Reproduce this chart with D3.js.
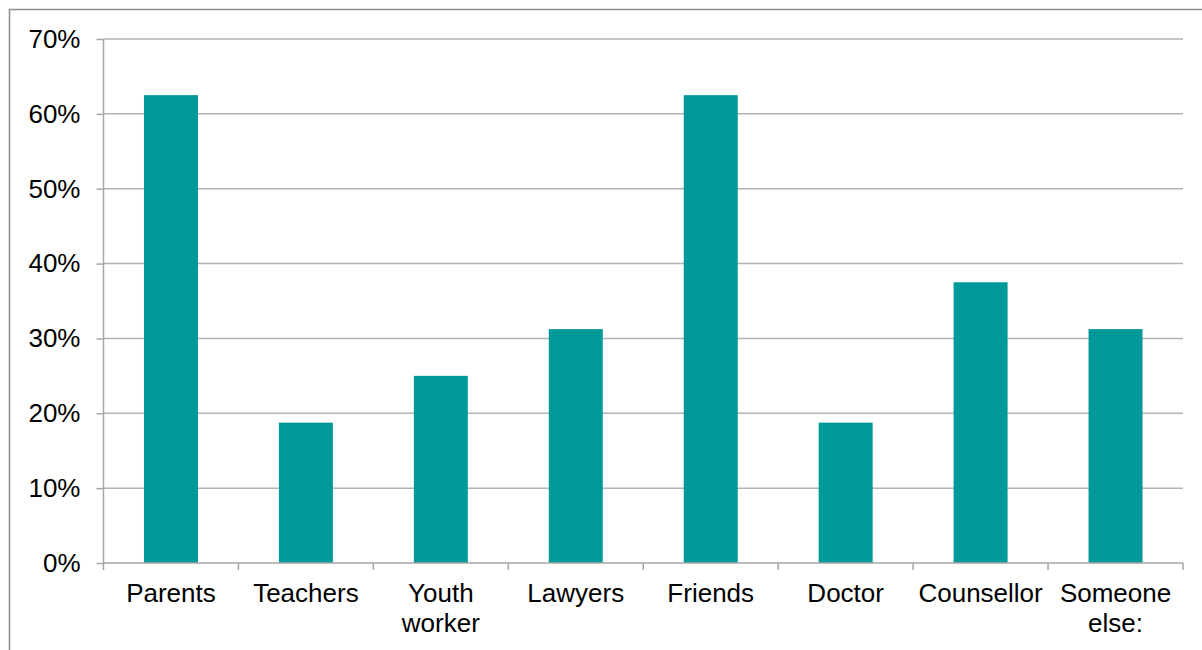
<!DOCTYPE html>
<html>
<head>
<meta charset="utf-8">
<script src="https://cdn.jsdelivr.net/npm/d3@7"></script>
<style>
  html, body { margin: 0; padding: 0; background: #fff; }
  svg { display: block; }
  text { font-family: "Liberation Sans", Arial, sans-serif; fill: #000; }
</style>
</head>
<body>
<svg id="chart" width="1202" height="650"></svg>
<script>
// Share of respondents who would talk to each group
const categories = ["Parents", "Teachers", "Youth worker", "Lawyers", "Friends", "Doctor", "Counsellor", "Someone else:"];
const values = [0.625, 0.1875, 0.25, 0.3125, 0.625, 0.1875, 0.375, 0.3125];
const yTicks = [0, 0.1, 0.2, 0.3, 0.4, 0.5, 0.6, 0.7];

const svg = d3.select("#chart");
const margin = { left: 103.5, right: 1183, top: 39, bottom: 563 };
const fontSize = "26px";

// Outer frame (top and left edges visible)
svg.append("path")
  .attr("d", "M9.5,660 V9.5 H1210")
  .attr("fill", "none")
  .attr("stroke", "#8c8c8c")
  .attr("stroke-width", 1.5);

const x = d3.scaleBand()
  .domain(categories)
  .range([margin.left, margin.right])
  .paddingInner(0.6)
  .paddingOuter(0.3);

const xEdges = d3.scaleLinear()
  .domain([0, categories.length])
  .range([margin.left, margin.right]);

const y = d3.scaleLinear()
  .domain([0, 0.7])
  .range([margin.bottom, margin.top]);

// Horizontal gridlines
svg.append("g")
  .selectAll("line")
  .data(yTicks.filter(d => d > 0))
  .join("line")
  .attr("x1", margin.left)
  .attr("x2", margin.right)
  .attr("y1", d => y(d))
  .attr("y2", d => y(d))
  .attr("stroke", "#b3b3b3")
  .attr("stroke-width", 1.5);

// Bars
svg.append("g")
  .selectAll("rect")
  .data(values)
  .join("rect")
  .attr("x", (d, i) => x(categories[i]))
  .attr("width", x.bandwidth())
  .attr("y", d => y(d))
  .attr("height", d => y(0) - y(d))
  .attr("fill", "#009999");

// Y axis
const yAxis = svg.append("g")
  .attr("transform", `translate(${margin.left},0)`)
  .call(d3.axisLeft(y).tickValues(yTicks).tickFormat(d3.format(".0%")).tickSize(7).tickPadding(16));
yAxis.select(".domain").attr("stroke", "#a6a6a6").attr("stroke-width", 1.5).attr("d", `M0,${margin.top}V${margin.bottom}`);
yAxis.selectAll(".tick line").attr("stroke", "#a6a6a6").attr("stroke-width", 1.5);
yAxis.selectAll(".tick text")
  .style("font-family", "'Liberation Sans', Arial, sans-serif")
  .style("font-size", fontSize)
  .attr("fill", "#000");

// X axis baseline and category boundary ticks
const xg = svg.append("g");
xg.append("line")
  .attr("x1", margin.left).attr("x2", margin.right)
  .attr("y1", y(0)).attr("y2", y(0))
  .attr("stroke", "#a6a6a6").attr("stroke-width", 1.5);
xg.selectAll("line.edge")
  .data(d3.range(categories.length + 1))
  .join("line")
  .attr("class", "edge")
  .attr("x1", d => xEdges(d)).attr("x2", d => xEdges(d))
  .attr("y1", y(0)).attr("y2", y(0) + 7)
  .attr("stroke", "#a6a6a6").attr("stroke-width", 1.5);

// Category labels, wrapped onto two lines where needed
const wrapped = {
  "Youth worker": ["Youth", "worker"],
  "Someone else:": ["Someone", "else:"]
};
const labels = xg.selectAll("text.cat")
  .data(categories)
  .join("text")
  .attr("class", "cat")
  .attr("text-anchor", "middle")
  .style("font-size", fontSize)
  .attr("x", d => x(d) + x.bandwidth() / 2)
  .attr("y", 602);
labels.each(function(d) {
  const lines = wrapped[d] || [d];
  const t = d3.select(this);
  lines.forEach((ln, i) => {
    t.append("tspan")
      .attr("x", x(d) + x.bandwidth() / 2)
      .attr("dy", i === 0 ? 0 : 30)
      .text(ln);
  });
});
</script>
</body>
</html>
